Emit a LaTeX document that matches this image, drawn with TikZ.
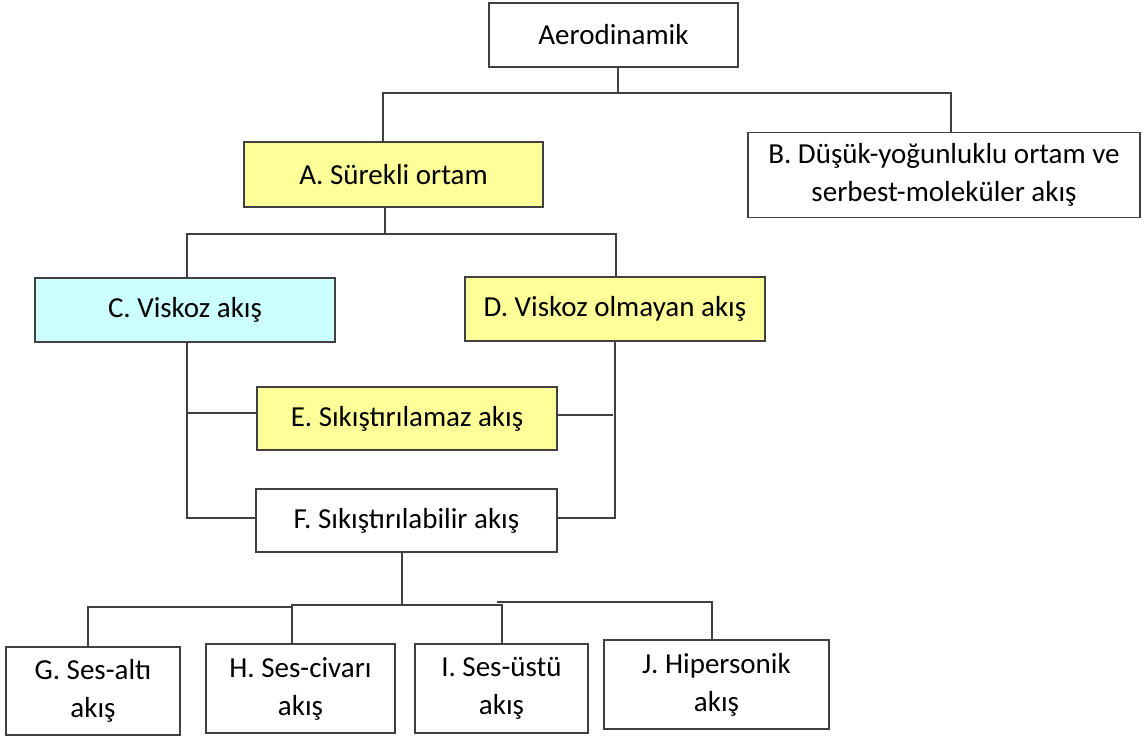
\documentclass[tikz,border=0pt]{standalone}
\usepackage{fontspec}
\setmainfont{Carlito}
\definecolor{boxyellow}{HTML}{FFFF99}
\definecolor{boxcyan}{HTML}{CCFFFF}
\definecolor{linegray}{HTML}{404040}
\begin{document}
\begin{tikzpicture}[x=1pt,y=-1pt,
  box/.style={draw=linegray,line width=1.3pt,rectangle,inner sep=0pt,align=center,
    font=\fontsize{29}{38}\selectfont},
  conn/.style={draw=linegray,line width=1.2pt}]
\useasboundingbox (0,0) rectangle (1148,737);
% nodes
\node[box,minimum width=249,minimum height=64] (aero) at (613.5,35) {Aerodinamik};
\node[box,fill=boxyellow,minimum width=299,minimum height=65] (A) at (393.5,174.5) {A. Sürekli ortam};
\node[box,minimum width=392,minimum height=85] (B) at (944,175) {B. Düşük-yoğunluklu ortam ve\\serbest-moleküler akış};
\node[box,fill=boxcyan,minimum width=300,minimum height=64] (C) at (185,310) {C. Viskoz akış};
\node[box,fill=boxyellow,minimum width=300,minimum height=64] (D) at (615,309) {D. Viskoz olmayan akış};
\node[box,fill=boxyellow,minimum width=300,minimum height=63] (E) at (407,418.5) {E. Sıkıştırılamaz akış};
\node[box,minimum width=301,minimum height=63] (F) at (406.5,520.5) {F. Sıkıştırılabilir akış};
\node[box,minimum width=174,minimum height=88] (G) at (93,691) {G. Ses-altı\\akış};
\node[box,minimum width=189,minimum height=89] (H) at (300.5,688.5) {H. Ses-civarı\\akış};
\node[box,minimum width=173,minimum height=89] (I) at (501.5,688.5) {I. Ses-üstü\\akış};
\node[box,minimum width=225,minimum height=89] (J) at (716.5,684.5) {J. Hipersonik\\akış};
% junction coordinates
\coordinate (t0) at (618,93);
\coordinate (t1) at (383,93);
\coordinate (t2) at (951,93);
\coordinate (a1) at (385,234);
\coordinate (c1) at (187,234);
\coordinate (d1) at (616,234);
\coordinate (c2) at (187,518);
\coordinate (c3) at (187,413);
\coordinate (d2) at (615,518);
\coordinate (d3) at (613,415);
\coordinate (f1) at (402,604);
\coordinate (g1) at (88,607);
\coordinate (h1) at (292,605);
\coordinate (i1) at (502,604);
\coordinate (j1) at (712,602);
% connectors
\draw[conn] (t0 |- aero.south) -- (t0);
\draw[conn] (t1 |- A.north) -- (t1) -- (t2) -- (t2 |- B.north);
\draw[conn] (a1 |- A.south) -- (a1);
\draw[conn] (c1 |- C.north) -- (c1) -- (d1) -- (d1 |- D.north);
\draw[conn] (c2 |- C.south) -- (c2) -- (c2 -| F.west);
\draw[conn] (c3) -- (c3 -| E.west);
\draw[conn] (d2 |- D.south) -- (d2) -- (d2 -| F.east);
\draw[conn] (d3 -| E.east) -- (d3);
\draw[conn] (f1 |- F.south) -- (f1);
\draw[conn] (g1 |- G.north) -- (g1) -- (g1 -| h1);
\draw[conn] (h1 |- H.north) -- (h1) -- (h1 -| i1);
\draw[conn] (i1 |- I.north) -- (i1);
\draw[conn] (j1 |- J.north) -- (j1) -- (j1 -| 497,0);
\end{tikzpicture}
\end{document}
